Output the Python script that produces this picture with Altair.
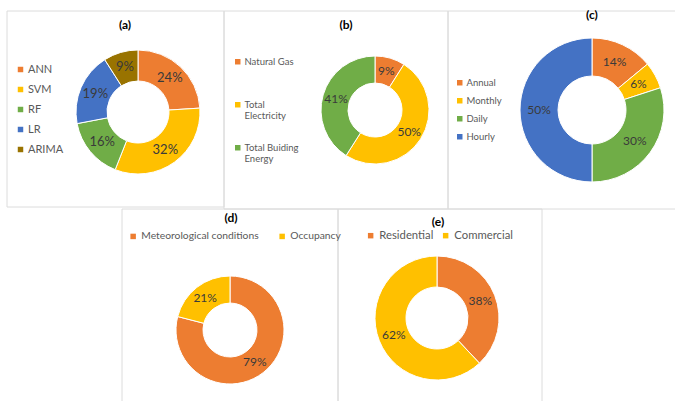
import altair as alt
import pandas as pd

# ---- data ----
a_cats = ["ANN", "SVM", "RF", "LR", "ARIMA"]
a_vals = [24, 32, 16, 19, 9]
b_cats = ["Natural Gas", "Total Electricity", "Total Buiding Energy"]
b_vals = [9, 50, 41]
c_cats = ["Annual", "Monthly", "Daily", "Hourly"]
c_vals = [14, 6, 30, 50]
d_cats = ["Meteorological conditions", "Occupancy"]
d_vals = [79, 21]
e_cats = ["Residential", "Commercial"]
e_vals = [38, 62]
titles = ["(a)", "(b)", "(c)", "(d)", "(e)"]

ORANGE, YELLOW, GREEN, BLUE, OLIVE = "#ED7D31", "#FFC000", "#70AD47", "#4472C4", "#997300"
a_colors = [ORANGE, YELLOW, GREEN, BLUE, OLIVE]
b_colors = [ORANGE, YELLOW, GREEN]
c_colors = [ORANGE, YELLOW, GREEN, BLUE]
d_colors = [ORANGE, YELLOW]
e_colors = [ORANGE, YELLOW]

FONT = "Lato"
FRAME = "#dcdcdc"


def frame(x1, y1, x2, y2):
    return alt.Chart(pd.DataFrame({"k": [0]})).mark_rect(
        fillOpacity=0, stroke=FRAME, strokeWidth=1
    ).encode(x=alt.value(x1), x2=alt.value(x2), y=alt.value(y1), y2=alt.value(y2))


def title(t, x, y):
    return alt.Chart(pd.DataFrame({"t": [t]})).mark_text(
        font=FONT, fontSize=12, fontWeight="bold", color="#000000"
    ).encode(text="t:N", x=alt.value(x), y=alt.value(y))


def donut(cats, vals, colors, cx, cy, ro, ri, legend, fs=12):
    df = pd.DataFrame({"cat": cats, "val": vals, "i": list(range(len(cats)))})
    arc = alt.Chart(df).mark_arc(
        radius=ro, innerRadius=ri, stroke="white", strokeWidth=1
    ).encode(
        theta=alt.Theta("val:Q", stack=True),
        color=alt.Color("cat:N", scale=alt.Scale(domain=cats, range=colors),
                        sort=cats, legend=legend),
        order=alt.Order("i:Q"),
        x=alt.value(cx), y=alt.value(cy),
    )
    txt = alt.Chart(df).transform_calculate(lbl="datum.val + '%'").mark_text(
        radius=(ro + ri) / 2, font=FONT, fontSize=fs, color="#3a3a3a"
    ).encode(
        theta=alt.Theta("val:Q", stack=True),
        detail="cat:N",
        order=alt.Order("i:Q"),
        text="lbl:N",
        x=alt.value(cx), y=alt.value(cy),
    )
    return [arc, txt]


def vleg(x, y, rowpad, fs=11, expr=None):
    kw = dict(orient="none", legendX=x, legendY=y, title=None, direction="vertical",
              symbolType="square", symbolSize=30, symbolStrokeWidth=0,
              labelFont=FONT, labelFontSize=fs, labelColor="#595959",
              rowPadding=rowpad, labelOffset=2)
    if expr:
        kw["labelExpr"] = expr
    return alt.Legend(**kw)


def hleg(x, y, colpad, fs=12):
    return alt.Legend(orient="none", legendX=x, legendY=y, title=None, direction="horizontal",
                      symbolType="square", symbolSize=30, symbolStrokeWidth=0,
                      labelFont=FONT, labelFontSize=fs, labelColor="#595959",
                      columnPadding=colpad, labelOffset=3)


wrap = ("length(datum.label) > 12 ? [substring(datum.label, 0, lastindexof(datum.label, ' ')),"
        " substring(datum.label, lastindexof(datum.label, ' ') + 1)] : [datum.label, ' ']")

layers = [
    frame(7, 11, 224, 207),
    frame(224, 11, 448, 209),
    frame(448, 11, 680, 209),
    frame(122, 209, 338, 405),
    frame(338, 209, 542, 405),
    title(titles[0], 125, 25),
    title(titles[1], 346, 25),
    title(titles[2], 592, 15),
    title(titles[3], 231, 218),
    title(titles[4], 438, 222),
]
layers += donut(a_cats, a_vals, a_colors, 138, 112, 62, 31, vleg(15, 64, 8), fs=13)
layers += donut(b_cats, b_vals, b_colors, 375, 110, 54, 27, vleg(233, 57, 21, fs=9.5, expr=wrap), fs=12)
layers += donut(c_cats, c_vals, c_colors, 592, 110, 72, 34, vleg(455, 78, 7, fs=9.5), fs=12)
layers += donut(d_cats, d_vals, d_colors, 230, 330, 54, 27, hleg(128, 231, 18, fs=10.3), fs=12)
layers += donut(e_cats, e_vals, e_colors, 437, 318, 62, 31, hleg(365, 230, 6, fs=11.3), fs=12)

chart = alt.layer(*layers).resolve_scale(
    theta="independent", color="independent"
).resolve_legend(color="independent").properties(
    width=675, height=401, padding=0, autosize=alt.AutoSizeParams(type="none"),
    background="white"
).configure_view(stroke=None)

chart.save("out.html", embed_options={"renderer": "svg", "actions": False})
